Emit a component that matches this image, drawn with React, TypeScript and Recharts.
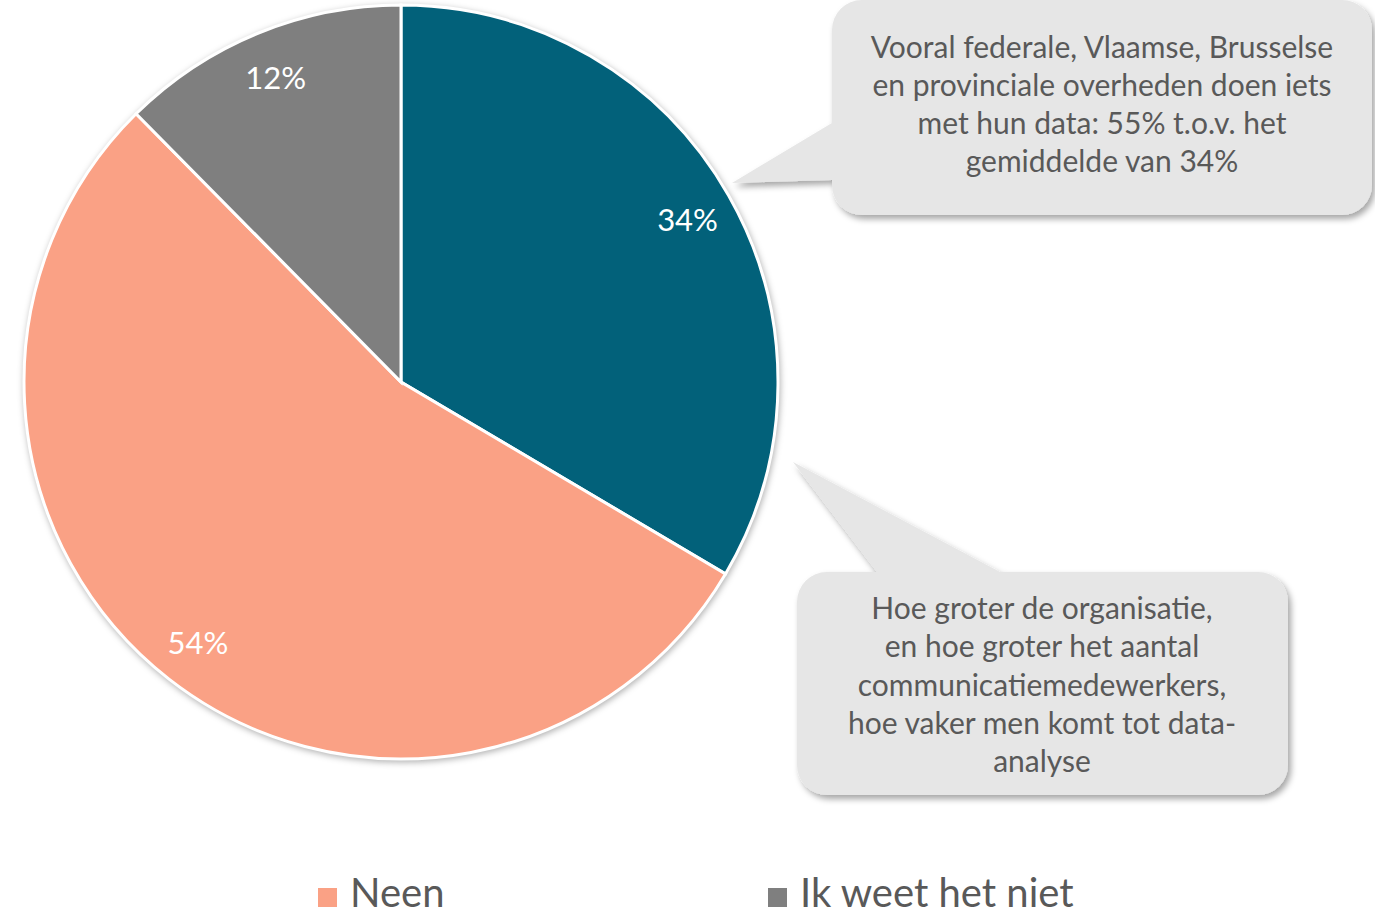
import React from "react";
import { PieChart, Pie, Cell, Legend } from "recharts";

const categories = ["Ja", "Neen", "Ik weet het niet"];
const values = [33.5, 54.1, 12.4];
const colors = ["#02617A", "#FAA185", "#7F7F7F"];
const legendItems = ["Neen", "Ik weet het niet"];

const callout1Lines = [
  "Vooral federale, Vlaamse, Brusselse",
  "en provinciale overheden doen iets",
  "met hun data: 55% t.o.v. het",
  "gemiddelde van 34%",
];
const callout2Lines = [
  "Hoe groter de organisatie,",
  "en hoe groter het aantal",
  "communicatiemedewerkers,",
  "hoe vaker men komt tot data-",
  "analyse",
];

const data = categories.map((name, i) => ({ name, value: values[i] }));

const FONT = "Lato, 'Open Sans', sans-serif";
const RAD = Math.PI / 180;

const renderLabel = (props: any) => {
  const { cx, cy, midAngle, outerRadius, value } = props;
  const r = outerRadius * 0.875;
  const x = cx + r * Math.cos(-midAngle * RAD);
  const y = cy + r * Math.sin(-midAngle * RAD);
  return (
    <text x={x} y={y} fill="#FFFFFF" fontSize={31} fontFamily={FONT} textAnchor="middle" dominantBaseline="central">
      {`${Math.round(value)}%`}
    </text>
  );
};

const renderLegend = () => (
  <div style={{ paddingLeft: 318, fontFamily: FONT, fontSize: 40, color: "#595959", whiteSpace: "nowrap" }}>
    {legendItems.map((name) => {
      const idx = categories.indexOf(name);
      return (
        <span key={name} style={{ display: "inline-block", width: 450, lineHeight: "40px" }}>
          <span style={{ display: "inline-block", width: 19, height: 19, background: colors[idx], marginRight: 13, verticalAlign: "baseline" }} />
          {name}
        </span>
      );
    })}
  </div>
);

function leftTailBox(x: number, y: number, w: number, h: number, r: number, tailTop: number, tailBottom: number, tipX: number, tipY: number) {
  return `M ${x + r} ${y} H ${x + w - r} A ${r} ${r} 0 0 1 ${x + w} ${y + r} V ${y + h - r} A ${r} ${r} 0 0 1 ${x + w - r} ${y + h} H ${x + r} A ${r} ${r} 0 0 1 ${x} ${y + h - r} V ${tailBottom} L ${tipX} ${tipY} L ${x} ${tailTop} V ${y + r} A ${r} ${r} 0 0 1 ${x + r} ${y} Z`;
}
function topTailBox(x: number, y: number, w: number, h: number, r: number, tailLeft: number, tailRight: number, tipX: number, tipY: number) {
  return `M ${x + r} ${y} H ${tailLeft} L ${tipX} ${tipY} L ${tailRight} ${y} H ${x + w - r} A ${r} ${r} 0 0 1 ${x + w} ${y + r} V ${y + h - r} A ${r} ${r} 0 0 1 ${x + w - r} ${y + h} H ${x + r} A ${r} ${r} 0 0 1 ${x} ${y + h - r} V ${y + r} A ${r} ${r} 0 0 1 ${x + r} ${y} Z`;
}

const Callouts = () => (
  <svg width={1375} height={910} style={{ position: "absolute", left: 0, top: 0, pointerEvents: "none" }}>
    <defs>
      <filter id="cshadow" x="-10%" y="-10%" width="120%" height="130%">
        <feDropShadow dx="3" dy="4" stdDeviation="3" floodColor="#000" floodOpacity="0.35" />
      </filter>
    </defs>
    <path d={leftTailBox(832, 0, 540, 215, 30, 123, 180, 732, 183)} fill="#E6E6E6" filter="url(#cshadow)" />
    <text fontFamily={FONT} fontSize={30} fill="#595959" textAnchor="middle">
      {callout1Lines.map((l, i) => (
        <tspan key={i} x={1102} y={58 + i * 38}>{l}</tspan>
      ))}
    </text>
    <path d={topTailBox(797, 572, 491, 223, 30, 877, 1000, 793, 462)} fill="#E6E6E6" filter="url(#cshadow)" />
    <text fontFamily={FONT} fontSize={30} fill="#595959" textAnchor="middle">
      {callout2Lines.map((l, i) => (
        <tspan key={i} x={1042} y={619 + i * 38.3}>{l}</tspan>
      ))}
    </text>
  </svg>
);

export default function App() {
  return (
    <div style={{ position: "absolute", left: 0, top: 0, width: 1375, height: 910, background: "#FFFFFF", overflow: "hidden" }}>
      <style>{`.recharts-pie { filter: drop-shadow(1px 2px 3px rgba(0,0,0,0.3)); }`}</style>
      <PieChart width={1375} height={910} margin={{ top: 0, right: 0, bottom: 0, left: 0 }}>
        <Pie
          data={data}
          dataKey="value"
          nameKey="name"
          cx={401}
          cy={382}
          outerRadius={377}
          startAngle={90}
          endAngle={-270}
          stroke="#FFFFFF"
          strokeWidth={3}
          label={renderLabel}
          labelLine={false}
          isAnimationActive={false}
        >
          {data.map((d, i) => (
            <Cell key={d.name} fill={colors[i]} />
          ))}
        </Pie>
        <Legend content={renderLegend} wrapperStyle={{ position: "absolute", left: 0, top: 868, width: 1375 }} />
      </PieChart>
      <Callouts />
    </div>
  );
}
